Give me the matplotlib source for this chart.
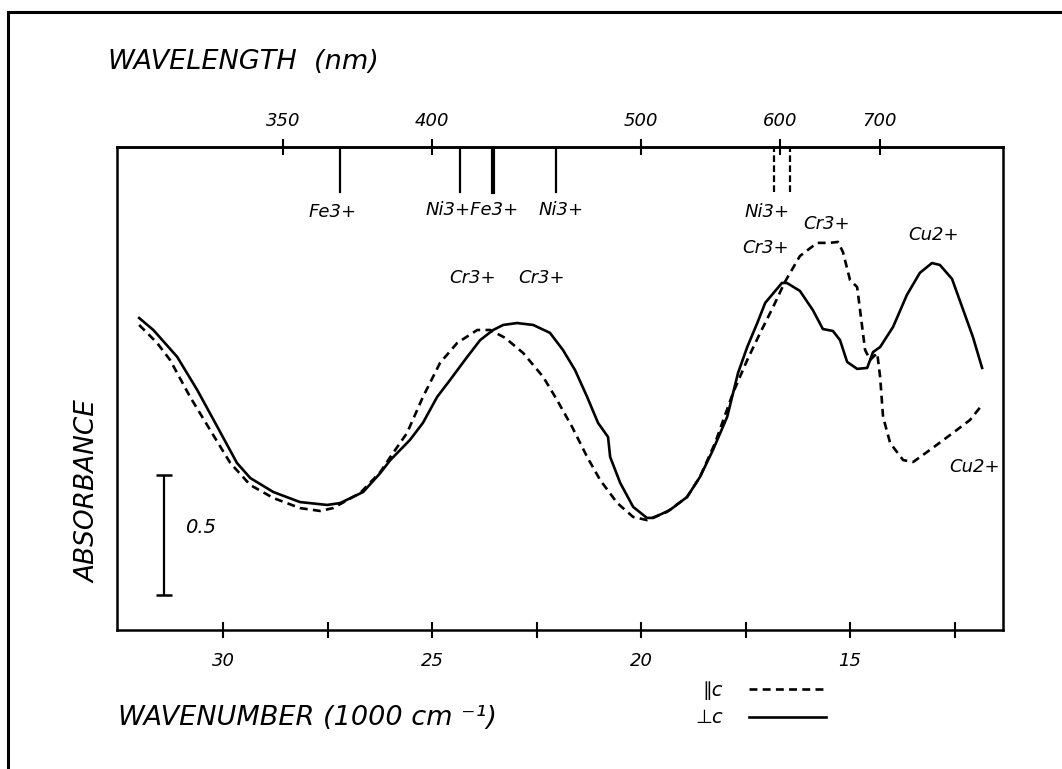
import numpy as np
import matplotlib
matplotlib.use("Agg")
import matplotlib.pyplot as plt
from matplotlib.ticker import NullLocator
from matplotlib.lines import Line2D

plt.rcParams['font.family'] = ['DejaVu Sans']
plt.rcParams['font.style'] = 'italic'

# wavenumber (1000 cm-1) / absorbance
perp_nu = [32.01, 31.67, 31.10, 30.62, 30.19, 29.67, 29.35, 28.80, 28.16, 27.51,
           27.20, 26.65, 26.24, 26.00, 25.53, 25.22, 24.88, 24.57, 24.16, 23.85,
           23.54, 23.30, 22.97, 22.58, 22.18, 21.87, 21.58, 21.29, 21.03, 20.79,
           20.74, 20.50, 20.19, 19.86, 19.71, 19.31, 18.90, 18.59, 18.28, 17.94,
           17.68, 17.46, 17.22, 17.03, 16.63, 16.51, 16.20, 15.89, 15.65, 15.41,
           15.24, 15.07, 14.83, 14.59, 14.45, 14.28, 13.97, 13.64, 13.33, 13.04,
           12.85, 12.56, 12.25, 12.06, 11.84]
perp_abs = [1.300, 1.250, 1.138, 1.000, 0.863, 0.696, 0.633, 0.575, 0.533, 0.521,
            0.529, 0.575, 0.654, 0.708, 0.792, 0.863, 0.971, 1.042, 1.138, 1.208,
            1.250, 1.271, 1.279, 1.271, 1.238, 1.167, 1.083, 0.971, 0.863, 0.804,
            0.721, 0.613, 0.513, 0.467, 0.467, 0.500, 0.554, 0.638, 0.750, 0.888,
            1.071, 1.179, 1.279, 1.363, 1.446, 1.446, 1.413, 1.333, 1.254, 1.246,
            1.208, 1.117, 1.088, 1.092, 1.158, 1.179, 1.263, 1.396, 1.488, 1.529,
            1.521, 1.463, 1.313, 1.221, 1.092]

para_nu = [32.01, 31.58, 31.27, 30.79, 30.31, 29.83, 29.35, 28.80, 28.16, 27.68,
           27.37, 26.72, 26.24, 26.00, 25.60, 25.22, 24.81, 24.40, 23.92, 23.61,
           23.25, 22.82, 22.34, 22.01, 21.65, 21.29, 20.98, 20.57, 20.19, 19.86,
           19.38, 18.90, 18.59, 18.23, 17.80, 17.46, 17.15, 16.84, 16.56, 16.20,
           15.79, 15.48, 15.29, 15.17, 15.00, 14.83, 14.64, 14.52, 14.35, 14.28,
           14.21, 14.04, 13.73, 13.49, 13.09, 12.54, 12.13, 11.84]
para_abs = [1.271, 1.196, 1.125, 0.971, 0.833, 0.696, 0.604, 0.550, 0.508, 0.496,
            0.508, 0.571, 0.658, 0.721, 0.821, 0.971, 1.113, 1.196, 1.250, 1.250,
            1.217, 1.154, 1.054, 0.958, 0.846, 0.721, 0.625, 0.529, 0.471, 0.458,
            0.492, 0.554, 0.638, 0.779, 0.988, 1.125, 1.238, 1.346, 1.450, 1.558,
            1.613, 1.613, 1.617, 1.575, 1.458, 1.429, 1.167, 1.125, 1.154, 1.054,
            0.888, 0.779, 0.708, 0.700, 0.750, 0.821, 0.875, 0.938]

# ion band positions marked at the top (1000 cm-1)
marks_solid = [27.20, 24.33, 23.54, 22.03]
marks_dashed = [16.82, 16.44]

wn_ticks = [30, 25, 20, 15]
wn_minor = [27.5, 22.5, 17.5, 12.5]
wl_ticks = [350, 400, 500, 600, 700]
scale_bar = 0.5

W, H = 1062, 769
fig = plt.figure(figsize=(W / 100, H / 100), dpi=100)
ax = fig.add_axes([117 / W, 139 / H, 886 / W, 483 / H])

ax.plot(para_nu, para_abs, color='k', lw=1.9, ls=(0, (3, 2)), label='\u2225c')
ax.plot(perp_nu, perp_abs, color='k', lw=1.9, label='\u22a5c')

for v in marks_solid:
    ax.axvline(v, ymin=0.907, ymax=1, color='k', lw=1.6)
ax.axvline(23.54, ymin=0.907, ymax=1, color='k', lw=3)
for v in marks_dashed:
    ax.axvline(v, ymin=0.907, ymax=1, color='k', lw=1.6, ls=(0, (3, 1.5)))

lab = dict(fontsize=13, ha='center', va='center')
ax.text(27.39, 1.742, 'Fe3+', **lab)
ax.text(24.04, 1.750, 'Ni3+Fe3+', **lab)
ax.text(21.91, 1.750, 'Ni3+', **lab)
ax.text(16.99, 1.742, 'Ni3+', **lab)
ax.text(24.04, 1.467, 'Cr3+', **lab)
ax.text(22.39, 1.467, 'Cr3+', **lab)
ax.text(17.01, 1.592, 'Cr3+', **lab)
ax.text(15.57, 1.692, 'Cr3+', **lab)
ax.text(13.01, 1.646, 'Cu2+', **lab)
ax.text(12.03, 0.679, 'Cu2+', **lab)

# 0.5 absorbance scale bar
ax.errorbar([31.41], [0.396], yerr=scale_bar / 2, fmt='none', ecolor='k',
            elinewidth=1.6, capsize=6, capthick=1.8)
ax.text(30.53, 0.429, '0.5', fontsize=14, ha='center', va='center')

ax.set_xlim(32.54, 11.34)
ax.set_ylim(0, 2.0125)
ax.set_yticks([])
ax.set_xticks(wn_ticks)
ax.set_xticklabels([str(t) for t in wn_ticks])
ax.set_xticks(wn_minor, minor=True)
ax.tick_params(axis='x', which='both', direction='inout', length=12, width=1.5,
               pad=10, labelsize=13)
for s in ax.spines.values():
    s.set_linewidth(1.8)

sec = ax.secondary_xaxis('top', functions=(lambda v: 1e4 / v, lambda w: 1e4 / w))
sec.set_xticks(wl_ticks)
sec.set_xticklabels([str(t) for t in wl_ticks])
sec.xaxis.set_minor_locator(NullLocator())
sec.tick_params(axis='x', direction='inout', length=12, width=1.5, pad=6, labelsize=13)
sec.spines['top'].set_linewidth(1.8)

fig.text(108 / W, 1 - 62 / H, 'WAVELENGTH  (nm)', fontsize=19.5, ha='left', va='center')
fig.text(118 / W, 1 - 718 / H, 'WAVENUMBER (1000 cm \u207b\u00b9)', fontsize=19.5,
         ha='left', va='center')
fig.text(88 / W, 1 - 492 / H, 'ABSORBANCE', fontsize=19, rotation=90,
         ha='center', va='center')

ax.legend(loc='center', bbox_to_anchor=(761 / W, 1 - 704 / H),
          bbox_transform=fig.transFigure, frameon=False, markerfirst=False,
          handlelength=4, handletextpad=1.3, labelspacing=0.45, fontsize=14)

# outer frame
fig.add_artist(Line2D([8 / W, 1], [1 - 12 / H, 1 - 12 / H], color='k', lw=2.2,
                      transform=fig.transFigure))
fig.add_artist(Line2D([8 / W, 8 / W], [0, 1 - 12 / H], color='k', lw=2.2,
                      transform=fig.transFigure))

fig.savefig('out.png', dpi=100)
